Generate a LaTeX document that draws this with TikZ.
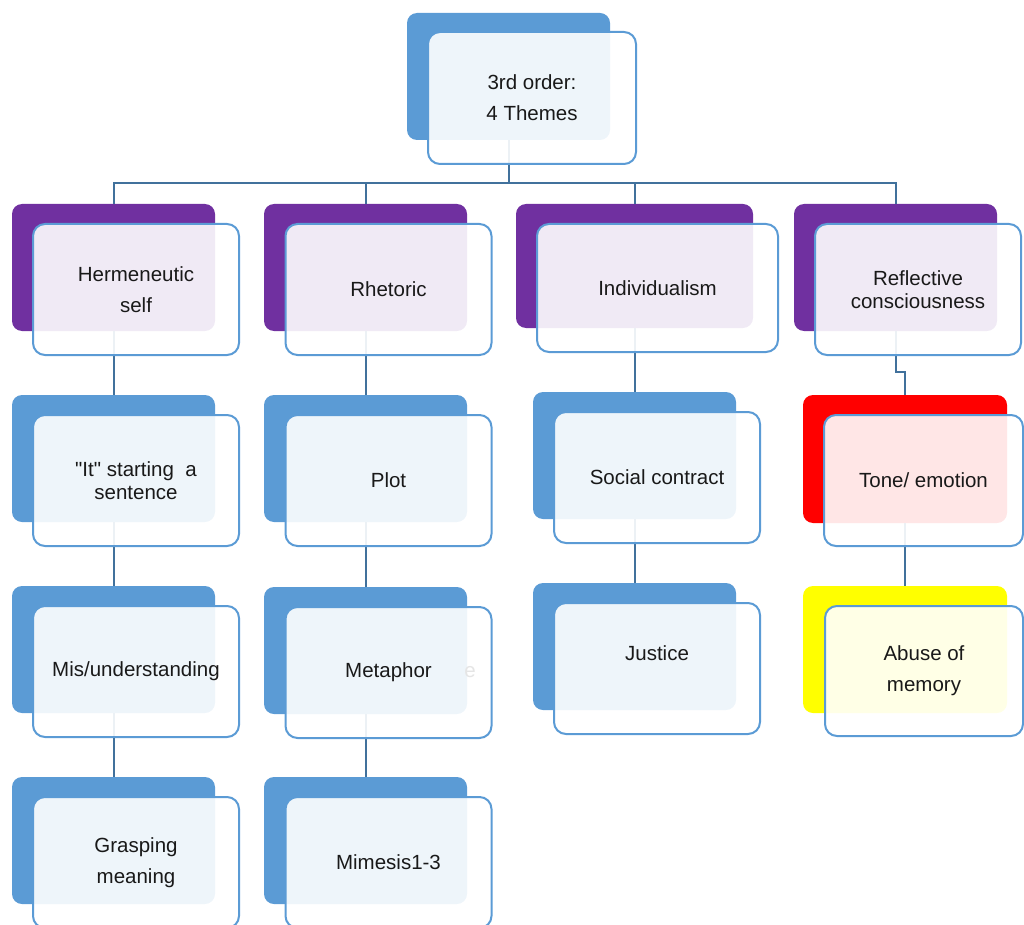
\documentclass[tikz,border=0pt]{standalone}
\usepackage{fontspec}
\setmainfont{Liberation Sans}
\newfontfamily\dfont{Liberation Sans}
\definecolor{blueA}{RGB}{91,155,213}
\definecolor{purpleA}{RGB}{112,48,160}
\definecolor{redA}{RGB}{255,0,0}
\definecolor{yellowA}{RGB}{255,255,0}
\definecolor{connC}{RGB}{65,113,156}
\definecolor{txtC}{RGB}{25,25,25}
\tikzset{
  back/.style={draw=none, fill=#1, rounded corners=10pt, inner sep=0pt},
  front/.style={draw=blueA, line width=2pt, fill=white, fill opacity=0.9, text opacity=1,
    rounded corners=12pt, inner sep=0pt, align=center, text=txtC,
    font=\dfont\fontsize{20.5}{31}\selectfont},
  tight/.style={font=\dfont\fontsize{20.5}{23}\selectfont},
  conn/.style={draw=connC, line width=2pt},
  bsz/.style={minimum width=203pt, minimum height=127pt},
  fsz/.style={minimum width=206pt, minimum height=131pt},
}
\begin{document}
\begin{tikzpicture}[x=1pt,y=-1pt]
\useasboundingbox (0,0) rectangle (1024,925);
\clip (0,0) rectangle (1024,925);
% back tiles
\node[back=blueA, bsz] (b0) at (508.5,76.5) {};
\node[back=purpleA, bsz] (b11) at (113.5,267.5) {};
\node[back=blueA, bsz] (b12) at (113.5,458.5) {};
\node[back=blueA, bsz] (b13) at (113.5,649.5) {};
\node[back=blueA, bsz] (b14) at (113.5,840.5) {};
\node[back=purpleA, bsz] (b21) at (365.5,267.5) {};
\node[back=blueA, bsz] (b22) at (365.5,458.5) {};
\node[back=blueA, bsz] (b23) at (365.5,650.5) {};
\node[back=blueA, bsz] (b24) at (365.5,840.5) {};
\node[back=purpleA, minimum width=237pt, minimum height=124pt] (b31) at (634.5,266) {};
\node[back=blueA, bsz] (b32) at (634.5,455.5) {};
\node[back=blueA, bsz] (b33) at (634.5,646.5) {};
\node[back=purpleA, bsz] (b41) at (895.5,267.5) {};
\node[back=redA, minimum width=204pt, minimum height=128pt] (b42) at (905,459) {};
\node[back=yellowA, minimum width=204pt, minimum height=127pt] (b43) at (905,649.5) {};
% connectors
\coordinate (bus) at (0,183);
\draw[conn] (b0.south) -- (b0.south |- bus);
\draw[conn] (b11.north) -- (b11.north |- bus) -- (b41.north |- bus) -- (b41.north);
\draw[conn] (b21.north) -- (b21.north |- bus);
\draw[conn] (b31.north) -- (b31.north |- bus);
\draw[conn] (b11.south) -- (b12.north);
\draw[conn] (b12.south) -- (b13.north);
\draw[conn] (b13.south) -- (b14.north);
\draw[conn] (b21.south) -- (b22.north);
\draw[conn] (b22.south) -- (b23.north);
\draw[conn] (b23.south) -- (b24.north);
\draw[conn] (b31.south) -- (b32.north);
\draw[conn] (b32.south) -- (b33.north);
\draw[conn] (b41.south) -- ++(0,41) -| (b42.north);
\draw[conn] (b42.south) -- (b43.north);
% front tiles
\node[front, minimum width=208pt, minimum height=132pt] (f0) at (532,98) {3rd order:\\4 Themes};
\node[front, fsz] (f11) at (136,289.5) {Hermeneutic\\self};
\node[front, fsz, tight] (f12) at (136,480.5) {"It" starting\ \ a\\sentence};
\node[front, fsz] (f13) at (136,671.5) {Mis/understanding};
\node[front, fsz] (f14) at (136,862.5) {Grasping\\meaning};
\node[front, fsz] (f21) at (388.5,289.5) {Rhetoric};
\node[front, fsz] (f22) at (388.5,480.5) {Plot};
\node[front, fsz] (f23) at (388.5,672.5) {Metaphor};
\node[front, fsz] (f24) at (388.5,862.5) {Mimesis1-3};
\node[front, minimum width=241pt, minimum height=128pt] (f31) at (657.5,288) {Individualism};
\node[front, fsz] (f32) at (657,477.5) {Social contract};
\node[front, fsz] (f33) at (657,668.5) {Justice\\\mbox{}};
\node[front, fsz, tight] (f41) at (918,289.5) {Reflective\\consciousness};
\node[front, minimum width=199pt, minimum height=131pt] (f42) at (923.5,480.5) {Tone/ emotion};
\node[front, minimum width=198pt, minimum height=130pt] (f43) at (924,671) {Abuse of\\memory};
\node[text=black!10, font=\dfont\fontsize{20.5}{24}\selectfont, inner sep=0pt] (ghost) at (470,672) {e};
\end{tikzpicture}
\end{document}
